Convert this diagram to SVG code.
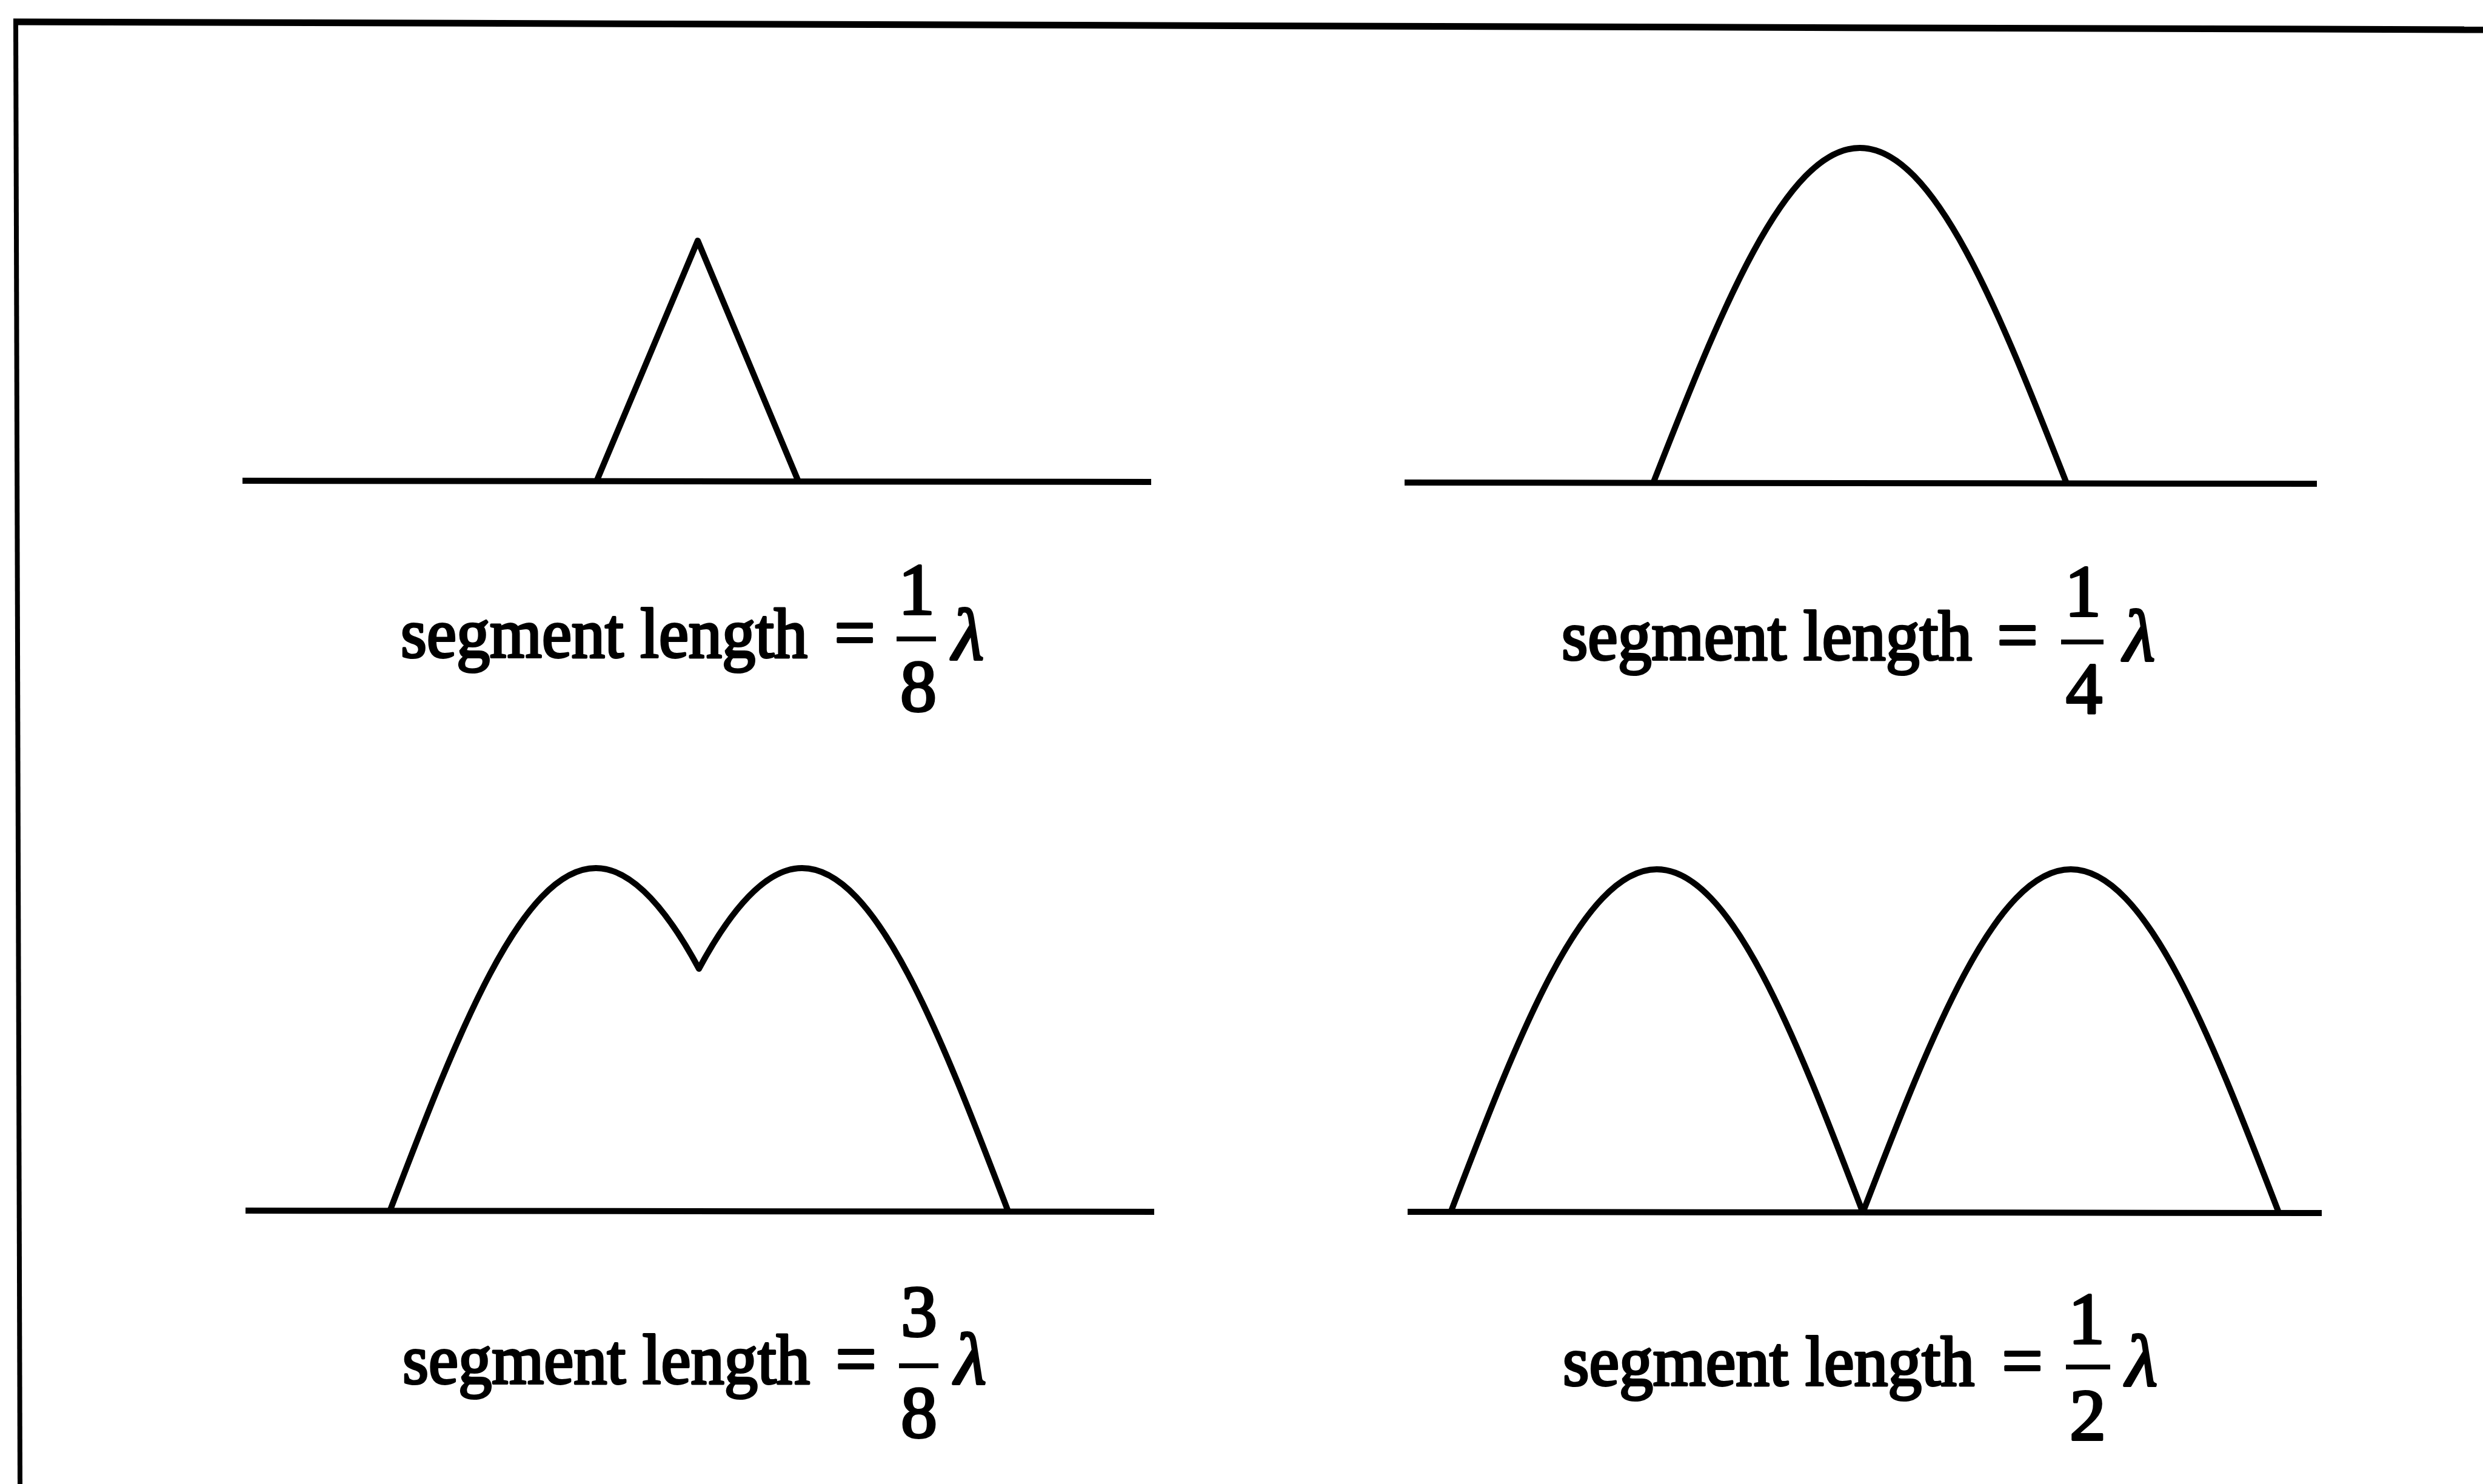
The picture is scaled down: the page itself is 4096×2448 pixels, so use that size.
<svg xmlns="http://www.w3.org/2000/svg" width="4096" height="2448" viewBox="0 0 4096 2448">
<style>
.ln{stroke:#000;stroke-width:10;fill:none;stroke-linejoin:round}
.base{stroke:#000;stroke-width:10;fill:none}
.bar{stroke:#000;stroke-width:8;fill:none}
.t{font-family:"Liberation Serif","Times New Roman",serif;font-size:116px;fill:#000;stroke:#000;stroke-width:4;stroke-linejoin:round}
.d{font-size:120px}
.m{text-anchor:middle}
.lam{font-style:italic;font-size:120px}
</style>
<rect width="4096" height="2448" fill="#fff"/>
<g id="frame">
<line x1="22" y1="36" x2="4096" y2="49" stroke="#000" stroke-width="11"/>
<line x1="26" y1="36" x2="33" y2="2448" stroke="#000" stroke-width="8"/>
</g>
<g id="panel-eighth">
<line class="base" x1="400" y1="793" x2="1899" y2="795"/>
<polyline class="ln" points="984,794 1151,397 1317,794"/>
<text class="t" x="661" y="1084" textLength="671" lengthAdjust="spacingAndGlyphs">segment length</text>
<text class="t d m" x="1410" y="1084">=</text>
<text class="t d m" x="1512" y="1013">1</text>
<line class="bar" x1="1479" y1="1054" x2="1544" y2="1054"/>
<text class="t d m" x="1515" y="1173">8</text>
<text class="t lam" x="1571" y="1088">λ</text>
</g>
<g id="panel-quarter">
<line class="base" x1="2317" y1="796" x2="3822" y2="798"/>
<path class="ln" d="M2727,797 C2838.2,513.7 2944.6,244 3068,244 C3191.4,244 3297.8,513.7 3409,797"/>
<text class="t" x="2576" y="1088" textLength="677" lengthAdjust="spacingAndGlyphs">segment length</text>
<text class="t d m" x="3328" y="1088">=</text>
<text class="t d m" x="3436" y="1016">1</text>
<line class="bar" x1="3400" y1="1059" x2="3470" y2="1059"/>
<text class="t d m" x="3438" y="1176">4</text>
<text class="t lam" x="3503" y="1090">λ</text>
</g>
<g id="panel-three-eighths">
<line class="base" x1="405" y1="1997" x2="1904" y2="1999"/>
<path class="ln" d="M643,1998 C753.9,1708 860,1432 983,1432 C1039.7,1432 1096.3,1493 1153,1598 C1209.7,1493 1266.3,1432 1323,1432 C1446,1432 1552.1,1708 1663,1998"/>
<text class="t" x="664" y="2282" textLength="672" lengthAdjust="spacingAndGlyphs">segment length</text>
<text class="t d m" x="1412" y="2282">=</text>
<text class="t d m" x="1516" y="2204">3</text>
<line class="bar" x1="1483" y1="2253" x2="1548" y2="2253"/>
<text class="t d m" x="1516" y="2371">8</text>
<text class="t lam" x="1575" y="2283">λ</text>
</g>
<g id="panel-half">
<line class="base" x1="2322" y1="1999" x2="3830" y2="2001"/>
<path class="ln" d="M2393,2000 C2503.9,1710 2610,1434 2733,1434 C2856,1434 2962,1710 3073,2000 C3184.9,1710 3291.9,1434 3416,1434 C3540.1,1434 3647.1,1710 3759,2000"/>
<text class="t" x="2578" y="2285" textLength="679" lengthAdjust="spacingAndGlyphs">segment length</text>
<text class="t d m" x="3336" y="2285">=</text>
<text class="t d m" x="3442" y="2216">1</text>
<line class="bar" x1="3408" y1="2255" x2="3481" y2="2255"/>
<text class="t d m" x="3444" y="2375">2</text>
<text class="t lam" x="3507" y="2286">λ</text>
</g>
</svg>
